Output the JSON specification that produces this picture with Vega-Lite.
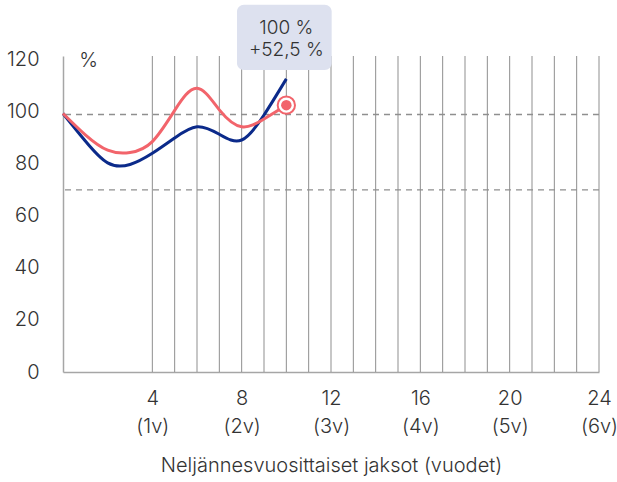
{
  "$schema": "https://vega.github.io/schema/vega-lite/v6.json",
  "width": 536,
  "height": 316,
  "autosize": "none",
  "padding": {"left": 63, "top": 56, "right": 18, "bottom": 110},
  "background": "white",
  "config": {"view": {"stroke": null}, "font": "Inter"},
  "datasets": {
    "series": [
      {"q": 0, "s": "b", "v": 99.4}, {"q": 1, "s": "b", "v": 88.8}, {"q": 2, "s": "b", "v": 80.4}, {"q": 3, "s": "b", "v": 79.8}, {"q": 4, "s": "b", "v": 84.1}, {"q": 5, "s": "b", "v": 90.0}, {"q": 6, "s": "b", "v": 94.3}, {"q": 7, "s": "b", "v": 91.4}, {"q": 8, "s": "b", "v": 89.2}, {"q": 9, "s": "b", "v": 98.8}, {"q": 10, "s": "b", "v": 112.7},
      {"q": 0, "s": "r", "v": 99.4}, {"q": 1, "s": "r", "v": 91.2}, {"q": 2, "s": "r", "v": 85.3}, {"q": 3, "s": "r", "v": 84.4}, {"q": 4, "s": "r", "v": 88.6}, {"q": 5, "s": "r", "v": 100.6}, {"q": 6, "s": "r", "v": 109.1}, {"q": 7, "s": "r", "v": 100.8}, {"q": 8, "s": "r", "v": 94.3}, {"q": 9, "s": "r", "v": 97.3}, {"q": 10, "s": "r", "v": 102.6}
    ],
    "grid": [{"q": 4}, {"q": 5}, {"q": 6}, {"q": 7}, {"q": 8}, {"q": 9}, {"q": 10}, {"q": 11}, {"q": 12}, {"q": 13}, {"q": 14}, {"q": 15}, {"q": 16}, {"q": 17}, {"q": 18}, {"q": 19}, {"q": 20}, {"q": 21}, {"q": 22}, {"q": 23}, {"q": 24}],
    "refs": [{"v": 99}, {"v": 70}],
    "endpoint": [{"q": 10, "v": 102.6}],
    "note": [{"x": 7.79, "x2": 12.03, "y": 116.1, "y2": 141.2}],
    "noteText": [{"q": 10, "v": 132.2, "t": "100 %"}, {"q": 10, "v": 123.8, "t": "+52,5 %"}]
  },
  "layer": [
    {
      "data": {"name": "grid"},
      "mark": {"type": "rule", "color": "#8f8f8f", "strokeWidth": 1},
      "encoding": {
        "x": {
          "field": "q", "type": "quantitative",
          "scale": {"domain": [0, 24], "nice": false, "zero": false},
          "axis": {
            "values": [4, 8, 12, 16, 20, 24],
            "labelExpr": "[datum.label, '(' + (datum.value / 4) + 'v)']",
            "grid": false, "ticks": false,
            "domainColor": "#a6a6a6", "domainWidth": 1.5,
            "labelFontSize": 20, "labelFontWeight": 300, "labelColor": "#333333",
            "labelPadding": 16, "labelLineHeight": 28, "labelFlush": false,
            "title": "Neljännesvuosittaiset jaksot (vuodet)",
            "titleFontSize": 20, "titleFontWeight": 300, "titleColor": "#333333", "titlePadding": 19
          }
        }
      }
    },
    {
      "data": {"name": "refs"},
      "mark": {"type": "rule", "color": "#8f8f8f", "strokeWidth": 1.3, "strokeDash": [6, 5]},
      "encoding": {
        "y": {
          "field": "v", "type": "quantitative",
          "scale": {"domain": [0, 121.5], "nice": false},
          "axis": {
            "values": [0, 20, 40, 60, 80, 100, 120],
            "grid": false, "ticks": false,
            "domainColor": "#a6a6a6", "domainWidth": 1.5,
            "labelFontSize": 20, "labelFontWeight": 300, "labelColor": "#333333", "labelPadding": 24,
            "title": "%", "titleAngle": 0, "titleX": 25, "titleY": 4,
            "titleAlign": "center", "titleBaseline": "middle",
            "titleFontSize": 20, "titleFontWeight": 300, "titleColor": "#333333"
          }
        }
      }
    },
    {
      "data": {"name": "series"},
      "mark": {"type": "line", "interpolate": "natural", "strokeWidth": 3},
      "encoding": {
        "x": {"field": "q", "type": "quantitative"},
        "y": {"field": "v", "type": "quantitative"},
        "color": {"field": "s", "type": "nominal", "scale": {"domain": ["r", "b"], "range": ["#f2646b", "#0b2a8a"]}, "legend": null},
        "order": {"field": "q"}
      }
    },
    {
      "data": {"name": "endpoint"},
      "mark": {"type": "point", "shape": "circle", "filled": true, "fill": "white", "stroke": "#f2646b", "strokeWidth": 2, "size": 300, "opacity": 1},
      "encoding": {"x": {"field": "q", "type": "quantitative"}, "y": {"field": "v", "type": "quantitative"}}
    },
    {
      "data": {"name": "endpoint"},
      "mark": {"type": "point", "shape": "circle", "filled": true, "color": "#f2646b", "size": 110, "opacity": 1},
      "encoding": {"x": {"field": "q", "type": "quantitative"}, "y": {"field": "v", "type": "quantitative"}}
    },
    {
      "data": {"name": "note"},
      "mark": {"type": "rect", "fill": "#dde1ef", "cornerRadius": 7},
      "encoding": {
        "x": {"field": "x", "type": "quantitative"}, "x2": {"field": "x2"},
        "y": {"field": "y", "type": "quantitative"}, "y2": {"field": "y2"}
      }
    },
    {
      "data": {"name": "noteText"},
      "mark": {"type": "text", "fontSize": 19, "fontWeight": 300, "color": "#333333", "align": "center", "baseline": "middle"},
      "encoding": {
        "x": {"field": "q", "type": "quantitative"},
        "y": {"field": "v", "type": "quantitative"},
        "text": {"field": "t"}
      }
    }
  ]
}
